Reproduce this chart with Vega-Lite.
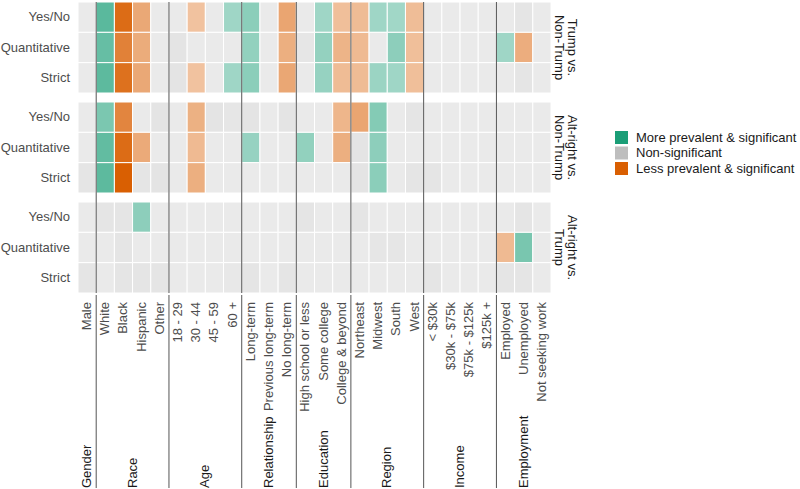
{
  "$schema": "https://vega.github.io/schema/vega-lite/v6.json",
  "padding": {"left": 0, "top": 1, "right": 0, "bottom": 0},
  "config": {"view": {"stroke": null}, "font": "Liberation Sans"},
  "spacing": 0,
  "datasets": {
    "cells": [
      {"comparison":"Trump vs. Non-Trump","measure":"Yes/No","variable":"Male","status":"non","strength":0.32},
      {"comparison":"Trump vs. Non-Trump","measure":"Yes/No","variable":"White","status":"more","strength":0.72},
      {"comparison":"Trump vs. Non-Trump","measure":"Yes/No","variable":"Black","status":"less","strength":0.92},
      {"comparison":"Trump vs. Non-Trump","measure":"Yes/No","variable":"Hispanic","status":"less","strength":0.54},
      {"comparison":"Trump vs. Non-Trump","measure":"Yes/No","variable":"Other","status":"non","strength":0.32},
      {"comparison":"Trump vs. Non-Trump","measure":"Yes/No","variable":"18 - 29","status":"non","strength":0.33},
      {"comparison":"Trump vs. Non-Trump","measure":"Yes/No","variable":"30 - 44","status":"less","strength":0.38},
      {"comparison":"Trump vs. Non-Trump","measure":"Yes/No","variable":"45 - 59","status":"non","strength":0.32},
      {"comparison":"Trump vs. Non-Trump","measure":"Yes/No","variable":"60 +","status":"more","strength":0.42},
      {"comparison":"Trump vs. Non-Trump","measure":"Yes/No","variable":"Long-term","status":"more","strength":0.51},
      {"comparison":"Trump vs. Non-Trump","measure":"Yes/No","variable":"Previous long-term","status":"non","strength":0.32},
      {"comparison":"Trump vs. Non-Trump","measure":"Yes/No","variable":"No long-term","status":"less","strength":0.56},
      {"comparison":"Trump vs. Non-Trump","measure":"Yes/No","variable":"High school or less","status":"non","strength":0.32},
      {"comparison":"Trump vs. Non-Trump","measure":"Yes/No","variable":"Some college","status":"more","strength":0.42},
      {"comparison":"Trump vs. Non-Trump","measure":"Yes/No","variable":"College & beyond","status":"less","strength":0.40},
      {"comparison":"Trump vs. Non-Trump","measure":"Yes/No","variable":"Northeast","status":"less","strength":0.42},
      {"comparison":"Trump vs. Non-Trump","measure":"Yes/No","variable":"Midwest","status":"more","strength":0.42},
      {"comparison":"Trump vs. Non-Trump","measure":"Yes/No","variable":"South","status":"more","strength":0.41},
      {"comparison":"Trump vs. Non-Trump","measure":"Yes/No","variable":"West","status":"less","strength":0.41},
      {"comparison":"Trump vs. Non-Trump","measure":"Yes/No","variable":"< $30k","status":"non","strength":0.32},
      {"comparison":"Trump vs. Non-Trump","measure":"Yes/No","variable":"$30k - $75k","status":"non","strength":0.32},
      {"comparison":"Trump vs. Non-Trump","measure":"Yes/No","variable":"$75k - $125k","status":"non","strength":0.32},
      {"comparison":"Trump vs. Non-Trump","measure":"Yes/No","variable":"$125k +","status":"non","strength":0.32},
      {"comparison":"Trump vs. Non-Trump","measure":"Yes/No","variable":"Employed","status":"non","strength":0.32},
      {"comparison":"Trump vs. Non-Trump","measure":"Yes/No","variable":"Unemployed","status":"non","strength":0.40},
      {"comparison":"Trump vs. Non-Trump","measure":"Yes/No","variable":"Not seeking work","status":"non","strength":0.32},

      {"comparison":"Trump vs. Non-Trump","measure":"Quantitative","variable":"Male","status":"non","strength":0.32},
      {"comparison":"Trump vs. Non-Trump","measure":"Quantitative","variable":"White","status":"more","strength":0.67},
      {"comparison":"Trump vs. Non-Trump","measure":"Quantitative","variable":"Black","status":"less","strength":0.79},
      {"comparison":"Trump vs. Non-Trump","measure":"Quantitative","variable":"Hispanic","status":"less","strength":0.52},
      {"comparison":"Trump vs. Non-Trump","measure":"Quantitative","variable":"Other","status":"non","strength":0.32},
      {"comparison":"Trump vs. Non-Trump","measure":"Quantitative","variable":"18 - 29","status":"non","strength":0.41},
      {"comparison":"Trump vs. Non-Trump","measure":"Quantitative","variable":"30 - 44","status":"non","strength":0.32},
      {"comparison":"Trump vs. Non-Trump","measure":"Quantitative","variable":"45 - 59","status":"non","strength":0.33},
      {"comparison":"Trump vs. Non-Trump","measure":"Quantitative","variable":"60 +","status":"non","strength":0.32},
      {"comparison":"Trump vs. Non-Trump","measure":"Quantitative","variable":"Long-term","status":"more","strength":0.48},
      {"comparison":"Trump vs. Non-Trump","measure":"Quantitative","variable":"Previous long-term","status":"non","strength":0.32},
      {"comparison":"Trump vs. Non-Trump","measure":"Quantitative","variable":"No long-term","status":"less","strength":0.50},
      {"comparison":"Trump vs. Non-Trump","measure":"Quantitative","variable":"High school or less","status":"non","strength":0.38},
      {"comparison":"Trump vs. Non-Trump","measure":"Quantitative","variable":"Some college","status":"more","strength":0.47},
      {"comparison":"Trump vs. Non-Trump","measure":"Quantitative","variable":"College & beyond","status":"less","strength":0.47},
      {"comparison":"Trump vs. Non-Trump","measure":"Quantitative","variable":"Northeast","status":"less","strength":0.43},
      {"comparison":"Trump vs. Non-Trump","measure":"Quantitative","variable":"Midwest","status":"non","strength":0.32},
      {"comparison":"Trump vs. Non-Trump","measure":"Quantitative","variable":"South","status":"more","strength":0.50},
      {"comparison":"Trump vs. Non-Trump","measure":"Quantitative","variable":"West","status":"less","strength":0.40},
      {"comparison":"Trump vs. Non-Trump","measure":"Quantitative","variable":"< $30k","status":"non","strength":0.32},
      {"comparison":"Trump vs. Non-Trump","measure":"Quantitative","variable":"$30k - $75k","status":"non","strength":0.32},
      {"comparison":"Trump vs. Non-Trump","measure":"Quantitative","variable":"$75k - $125k","status":"non","strength":0.32},
      {"comparison":"Trump vs. Non-Trump","measure":"Quantitative","variable":"$125k +","status":"non","strength":0.32},
      {"comparison":"Trump vs. Non-Trump","measure":"Quantitative","variable":"Employed","status":"more","strength":0.42},
      {"comparison":"Trump vs. Non-Trump","measure":"Quantitative","variable":"Unemployed","status":"less","strength":0.51},
      {"comparison":"Trump vs. Non-Trump","measure":"Quantitative","variable":"Not seeking work","status":"non","strength":0.32},

      {"comparison":"Trump vs. Non-Trump","measure":"Strict","variable":"Male","status":"non","strength":0.32},
      {"comparison":"Trump vs. Non-Trump","measure":"Strict","variable":"White","status":"more","strength":0.71},
      {"comparison":"Trump vs. Non-Trump","measure":"Strict","variable":"Black","status":"less","strength":0.89},
      {"comparison":"Trump vs. Non-Trump","measure":"Strict","variable":"Hispanic","status":"less","strength":0.54},
      {"comparison":"Trump vs. Non-Trump","measure":"Strict","variable":"Other","status":"non","strength":0.32},
      {"comparison":"Trump vs. Non-Trump","measure":"Strict","variable":"18 - 29","status":"non","strength":0.41},
      {"comparison":"Trump vs. Non-Trump","measure":"Strict","variable":"30 - 44","status":"less","strength":0.38},
      {"comparison":"Trump vs. Non-Trump","measure":"Strict","variable":"45 - 59","status":"non","strength":0.32},
      {"comparison":"Trump vs. Non-Trump","measure":"Strict","variable":"60 +","status":"more","strength":0.42},
      {"comparison":"Trump vs. Non-Trump","measure":"Strict","variable":"Long-term","status":"more","strength":0.51},
      {"comparison":"Trump vs. Non-Trump","measure":"Strict","variable":"Previous long-term","status":"non","strength":0.32},
      {"comparison":"Trump vs. Non-Trump","measure":"Strict","variable":"No long-term","status":"less","strength":0.55},
      {"comparison":"Trump vs. Non-Trump","measure":"Strict","variable":"High school or less","status":"non","strength":0.32},
      {"comparison":"Trump vs. Non-Trump","measure":"Strict","variable":"Some college","status":"more","strength":0.46},
      {"comparison":"Trump vs. Non-Trump","measure":"Strict","variable":"College & beyond","status":"less","strength":0.42},
      {"comparison":"Trump vs. Non-Trump","measure":"Strict","variable":"Northeast","status":"less","strength":0.42},
      {"comparison":"Trump vs. Non-Trump","measure":"Strict","variable":"Midwest","status":"more","strength":0.44},
      {"comparison":"Trump vs. Non-Trump","measure":"Strict","variable":"South","status":"more","strength":0.42},
      {"comparison":"Trump vs. Non-Trump","measure":"Strict","variable":"West","status":"less","strength":0.40},
      {"comparison":"Trump vs. Non-Trump","measure":"Strict","variable":"< $30k","status":"non","strength":0.32},
      {"comparison":"Trump vs. Non-Trump","measure":"Strict","variable":"$30k - $75k","status":"non","strength":0.32},
      {"comparison":"Trump vs. Non-Trump","measure":"Strict","variable":"$75k - $125k","status":"non","strength":0.32},
      {"comparison":"Trump vs. Non-Trump","measure":"Strict","variable":"$125k +","status":"non","strength":0.32},
      {"comparison":"Trump vs. Non-Trump","measure":"Strict","variable":"Employed","status":"non","strength":0.32},
      {"comparison":"Trump vs. Non-Trump","measure":"Strict","variable":"Unemployed","status":"non","strength":0.40},
      {"comparison":"Trump vs. Non-Trump","measure":"Strict","variable":"Not seeking work","status":"non","strength":0.32},

      {"comparison":"Alt-right vs. Non-Trump","measure":"Yes/No","variable":"Male","status":"non","strength":0.32},
      {"comparison":"Alt-right vs. Non-Trump","measure":"Yes/No","variable":"White","status":"more","strength":0.58},
      {"comparison":"Alt-right vs. Non-Trump","measure":"Yes/No","variable":"Black","status":"less","strength":0.76},
      {"comparison":"Alt-right vs. Non-Trump","measure":"Yes/No","variable":"Hispanic","status":"non","strength":0.32},
      {"comparison":"Alt-right vs. Non-Trump","measure":"Yes/No","variable":"Other","status":"non","strength":0.41},
      {"comparison":"Alt-right vs. Non-Trump","measure":"Yes/No","variable":"18 - 29","status":"non","strength":0.32},
      {"comparison":"Alt-right vs. Non-Trump","measure":"Yes/No","variable":"30 - 44","status":"less","strength":0.49},
      {"comparison":"Alt-right vs. Non-Trump","measure":"Yes/No","variable":"45 - 59","status":"non","strength":0.41},
      {"comparison":"Alt-right vs. Non-Trump","measure":"Yes/No","variable":"60 +","status":"non","strength":0.38},
      {"comparison":"Alt-right vs. Non-Trump","measure":"Yes/No","variable":"Long-term","status":"non","strength":0.41},
      {"comparison":"Alt-right vs. Non-Trump","measure":"Yes/No","variable":"Previous long-term","status":"non","strength":0.32},
      {"comparison":"Alt-right vs. Non-Trump","measure":"Yes/No","variable":"No long-term","status":"non","strength":0.41},
      {"comparison":"Alt-right vs. Non-Trump","measure":"Yes/No","variable":"High school or less","status":"non","strength":0.32},
      {"comparison":"Alt-right vs. Non-Trump","measure":"Yes/No","variable":"Some college","status":"non","strength":0.32},
      {"comparison":"Alt-right vs. Non-Trump","measure":"Yes/No","variable":"College & beyond","status":"less","strength":0.46},
      {"comparison":"Alt-right vs. Non-Trump","measure":"Yes/No","variable":"Northeast","status":"less","strength":0.56},
      {"comparison":"Alt-right vs. Non-Trump","measure":"Yes/No","variable":"Midwest","status":"more","strength":0.54},
      {"comparison":"Alt-right vs. Non-Trump","measure":"Yes/No","variable":"South","status":"non","strength":0.32},
      {"comparison":"Alt-right vs. Non-Trump","measure":"Yes/No","variable":"West","status":"non","strength":0.40},
      {"comparison":"Alt-right vs. Non-Trump","measure":"Yes/No","variable":"< $30k","status":"non","strength":0.32},
      {"comparison":"Alt-right vs. Non-Trump","measure":"Yes/No","variable":"$30k - $75k","status":"non","strength":0.32},
      {"comparison":"Alt-right vs. Non-Trump","measure":"Yes/No","variable":"$75k - $125k","status":"non","strength":0.32},
      {"comparison":"Alt-right vs. Non-Trump","measure":"Yes/No","variable":"$125k +","status":"non","strength":0.32},
      {"comparison":"Alt-right vs. Non-Trump","measure":"Yes/No","variable":"Employed","status":"non","strength":0.32},
      {"comparison":"Alt-right vs. Non-Trump","measure":"Yes/No","variable":"Unemployed","status":"non","strength":0.32},
      {"comparison":"Alt-right vs. Non-Trump","measure":"Yes/No","variable":"Not seeking work","status":"non","strength":0.32},

      {"comparison":"Alt-right vs. Non-Trump","measure":"Quantitative","variable":"Male","status":"non","strength":0.32},
      {"comparison":"Alt-right vs. Non-Trump","measure":"Quantitative","variable":"White","status":"more","strength":0.69},
      {"comparison":"Alt-right vs. Non-Trump","measure":"Quantitative","variable":"Black","status":"less","strength":0.92},
      {"comparison":"Alt-right vs. Non-Trump","measure":"Quantitative","variable":"Hispanic","status":"less","strength":0.53},
      {"comparison":"Alt-right vs. Non-Trump","measure":"Quantitative","variable":"Other","status":"non","strength":0.32},
      {"comparison":"Alt-right vs. Non-Trump","measure":"Quantitative","variable":"18 - 29","status":"non","strength":0.32},
      {"comparison":"Alt-right vs. Non-Trump","measure":"Quantitative","variable":"30 - 44","status":"less","strength":0.43},
      {"comparison":"Alt-right vs. Non-Trump","measure":"Quantitative","variable":"45 - 59","status":"non","strength":0.32},
      {"comparison":"Alt-right vs. Non-Trump","measure":"Quantitative","variable":"60 +","status":"non","strength":0.32},
      {"comparison":"Alt-right vs. Non-Trump","measure":"Quantitative","variable":"Long-term","status":"more","strength":0.46},
      {"comparison":"Alt-right vs. Non-Trump","measure":"Quantitative","variable":"Previous long-term","status":"non","strength":0.32},
      {"comparison":"Alt-right vs. Non-Trump","measure":"Quantitative","variable":"No long-term","status":"non","strength":0.32},
      {"comparison":"Alt-right vs. Non-Trump","measure":"Quantitative","variable":"High school or less","status":"more","strength":0.48},
      {"comparison":"Alt-right vs. Non-Trump","measure":"Quantitative","variable":"Some college","status":"non","strength":0.32},
      {"comparison":"Alt-right vs. Non-Trump","measure":"Quantitative","variable":"College & beyond","status":"less","strength":0.50},
      {"comparison":"Alt-right vs. Non-Trump","measure":"Quantitative","variable":"Northeast","status":"non","strength":0.41},
      {"comparison":"Alt-right vs. Non-Trump","measure":"Quantitative","variable":"Midwest","status":"more","strength":0.50},
      {"comparison":"Alt-right vs. Non-Trump","measure":"Quantitative","variable":"South","status":"non","strength":0.32},
      {"comparison":"Alt-right vs. Non-Trump","measure":"Quantitative","variable":"West","status":"non","strength":0.32},
      {"comparison":"Alt-right vs. Non-Trump","measure":"Quantitative","variable":"< $30k","status":"non","strength":0.32},
      {"comparison":"Alt-right vs. Non-Trump","measure":"Quantitative","variable":"$30k - $75k","status":"non","strength":0.32},
      {"comparison":"Alt-right vs. Non-Trump","measure":"Quantitative","variable":"$75k - $125k","status":"non","strength":0.32},
      {"comparison":"Alt-right vs. Non-Trump","measure":"Quantitative","variable":"$125k +","status":"non","strength":0.32},
      {"comparison":"Alt-right vs. Non-Trump","measure":"Quantitative","variable":"Employed","status":"non","strength":0.32},
      {"comparison":"Alt-right vs. Non-Trump","measure":"Quantitative","variable":"Unemployed","status":"non","strength":0.32},
      {"comparison":"Alt-right vs. Non-Trump","measure":"Quantitative","variable":"Not seeking work","status":"non","strength":0.32},

      {"comparison":"Alt-right vs. Non-Trump","measure":"Strict","variable":"Male","status":"non","strength":0.40},
      {"comparison":"Alt-right vs. Non-Trump","measure":"Strict","variable":"White","status":"more","strength":0.71},
      {"comparison":"Alt-right vs. Non-Trump","measure":"Strict","variable":"Black","status":"less","strength":1.0},
      {"comparison":"Alt-right vs. Non-Trump","measure":"Strict","variable":"Hispanic","status":"non","strength":0.40},
      {"comparison":"Alt-right vs. Non-Trump","measure":"Strict","variable":"Other","status":"non","strength":0.41},
      {"comparison":"Alt-right vs. Non-Trump","measure":"Strict","variable":"18 - 29","status":"non","strength":0.32},
      {"comparison":"Alt-right vs. Non-Trump","measure":"Strict","variable":"30 - 44","status":"less","strength":0.50},
      {"comparison":"Alt-right vs. Non-Trump","measure":"Strict","variable":"45 - 59","status":"non","strength":0.32},
      {"comparison":"Alt-right vs. Non-Trump","measure":"Strict","variable":"60 +","status":"non","strength":0.32},
      {"comparison":"Alt-right vs. Non-Trump","measure":"Strict","variable":"Long-term","status":"non","strength":0.32},
      {"comparison":"Alt-right vs. Non-Trump","measure":"Strict","variable":"Previous long-term","status":"non","strength":0.32},
      {"comparison":"Alt-right vs. Non-Trump","measure":"Strict","variable":"No long-term","status":"non","strength":0.32},
      {"comparison":"Alt-right vs. Non-Trump","measure":"Strict","variable":"High school or less","status":"non","strength":0.32},
      {"comparison":"Alt-right vs. Non-Trump","measure":"Strict","variable":"Some college","status":"non","strength":0.32},
      {"comparison":"Alt-right vs. Non-Trump","measure":"Strict","variable":"College & beyond","status":"non","strength":0.32},
      {"comparison":"Alt-right vs. Non-Trump","measure":"Strict","variable":"Northeast","status":"non","strength":0.41},
      {"comparison":"Alt-right vs. Non-Trump","measure":"Strict","variable":"Midwest","status":"more","strength":0.51},
      {"comparison":"Alt-right vs. Non-Trump","measure":"Strict","variable":"South","status":"non","strength":0.32},
      {"comparison":"Alt-right vs. Non-Trump","measure":"Strict","variable":"West","status":"non","strength":0.40},
      {"comparison":"Alt-right vs. Non-Trump","measure":"Strict","variable":"< $30k","status":"non","strength":0.40},
      {"comparison":"Alt-right vs. Non-Trump","measure":"Strict","variable":"$30k - $75k","status":"non","strength":0.32},
      {"comparison":"Alt-right vs. Non-Trump","measure":"Strict","variable":"$75k - $125k","status":"non","strength":0.32},
      {"comparison":"Alt-right vs. Non-Trump","measure":"Strict","variable":"$125k +","status":"non","strength":0.32},
      {"comparison":"Alt-right vs. Non-Trump","measure":"Strict","variable":"Employed","status":"non","strength":0.32},
      {"comparison":"Alt-right vs. Non-Trump","measure":"Strict","variable":"Unemployed","status":"non","strength":0.32},
      {"comparison":"Alt-right vs. Non-Trump","measure":"Strict","variable":"Not seeking work","status":"non","strength":0.32},

      {"comparison":"Alt-right vs. Trump","measure":"Yes/No","variable":"Male","status":"non","strength":0.32},
      {"comparison":"Alt-right vs. Trump","measure":"Yes/No","variable":"White","status":"non","strength":0.40},
      {"comparison":"Alt-right vs. Trump","measure":"Yes/No","variable":"Black","status":"non","strength":0.40},
      {"comparison":"Alt-right vs. Trump","measure":"Yes/No","variable":"Hispanic","status":"more","strength":0.50},
      {"comparison":"Alt-right vs. Trump","measure":"Yes/No","variable":"Other","status":"non","strength":0.32},
      {"comparison":"Alt-right vs. Trump","measure":"Yes/No","variable":"18 - 29","status":"non","strength":0.32},
      {"comparison":"Alt-right vs. Trump","measure":"Yes/No","variable":"30 - 44","status":"non","strength":0.32},
      {"comparison":"Alt-right vs. Trump","measure":"Yes/No","variable":"45 - 59","status":"non","strength":0.32},
      {"comparison":"Alt-right vs. Trump","measure":"Yes/No","variable":"60 +","status":"non","strength":0.32},
      {"comparison":"Alt-right vs. Trump","measure":"Yes/No","variable":"Long-term","status":"non","strength":0.32},
      {"comparison":"Alt-right vs. Trump","measure":"Yes/No","variable":"Previous long-term","status":"non","strength":0.32},
      {"comparison":"Alt-right vs. Trump","measure":"Yes/No","variable":"No long-term","status":"non","strength":0.32},
      {"comparison":"Alt-right vs. Trump","measure":"Yes/No","variable":"High school or less","status":"non","strength":0.40},
      {"comparison":"Alt-right vs. Trump","measure":"Yes/No","variable":"Some college","status":"non","strength":0.32},
      {"comparison":"Alt-right vs. Trump","measure":"Yes/No","variable":"College & beyond","status":"non","strength":0.32},
      {"comparison":"Alt-right vs. Trump","measure":"Yes/No","variable":"Northeast","status":"non","strength":0.40},
      {"comparison":"Alt-right vs. Trump","measure":"Yes/No","variable":"Midwest","status":"non","strength":0.32},
      {"comparison":"Alt-right vs. Trump","measure":"Yes/No","variable":"South","status":"non","strength":0.32},
      {"comparison":"Alt-right vs. Trump","measure":"Yes/No","variable":"West","status":"non","strength":0.32},
      {"comparison":"Alt-right vs. Trump","measure":"Yes/No","variable":"< $30k","status":"non","strength":0.32},
      {"comparison":"Alt-right vs. Trump","measure":"Yes/No","variable":"$30k - $75k","status":"non","strength":0.32},
      {"comparison":"Alt-right vs. Trump","measure":"Yes/No","variable":"$75k - $125k","status":"non","strength":0.32},
      {"comparison":"Alt-right vs. Trump","measure":"Yes/No","variable":"$125k +","status":"non","strength":0.32},
      {"comparison":"Alt-right vs. Trump","measure":"Yes/No","variable":"Employed","status":"non","strength":0.32},
      {"comparison":"Alt-right vs. Trump","measure":"Yes/No","variable":"Unemployed","status":"non","strength":0.40},
      {"comparison":"Alt-right vs. Trump","measure":"Yes/No","variable":"Not seeking work","status":"non","strength":0.32},

      {"comparison":"Alt-right vs. Trump","measure":"Quantitative","variable":"Male","status":"non","strength":0.32},
      {"comparison":"Alt-right vs. Trump","measure":"Quantitative","variable":"White","status":"non","strength":0.32},
      {"comparison":"Alt-right vs. Trump","measure":"Quantitative","variable":"Black","status":"non","strength":0.40},
      {"comparison":"Alt-right vs. Trump","measure":"Quantitative","variable":"Hispanic","status":"non","strength":0.32},
      {"comparison":"Alt-right vs. Trump","measure":"Quantitative","variable":"Other","status":"non","strength":0.32},
      {"comparison":"Alt-right vs. Trump","measure":"Quantitative","variable":"18 - 29","status":"non","strength":0.32},
      {"comparison":"Alt-right vs. Trump","measure":"Quantitative","variable":"30 - 44","status":"non","strength":0.32},
      {"comparison":"Alt-right vs. Trump","measure":"Quantitative","variable":"45 - 59","status":"non","strength":0.32},
      {"comparison":"Alt-right vs. Trump","measure":"Quantitative","variable":"60 +","status":"non","strength":0.32},
      {"comparison":"Alt-right vs. Trump","measure":"Quantitative","variable":"Long-term","status":"non","strength":0.32},
      {"comparison":"Alt-right vs. Trump","measure":"Quantitative","variable":"Previous long-term","status":"non","strength":0.32},
      {"comparison":"Alt-right vs. Trump","measure":"Quantitative","variable":"No long-term","status":"non","strength":0.32},
      {"comparison":"Alt-right vs. Trump","measure":"Quantitative","variable":"High school or less","status":"non","strength":0.32},
      {"comparison":"Alt-right vs. Trump","measure":"Quantitative","variable":"Some college","status":"non","strength":0.32},
      {"comparison":"Alt-right vs. Trump","measure":"Quantitative","variable":"College & beyond","status":"non","strength":0.32},
      {"comparison":"Alt-right vs. Trump","measure":"Quantitative","variable":"Northeast","status":"non","strength":0.32},
      {"comparison":"Alt-right vs. Trump","measure":"Quantitative","variable":"Midwest","status":"non","strength":0.38},
      {"comparison":"Alt-right vs. Trump","measure":"Quantitative","variable":"South","status":"non","strength":0.38},
      {"comparison":"Alt-right vs. Trump","measure":"Quantitative","variable":"West","status":"non","strength":0.32},
      {"comparison":"Alt-right vs. Trump","measure":"Quantitative","variable":"< $30k","status":"non","strength":0.32},
      {"comparison":"Alt-right vs. Trump","measure":"Quantitative","variable":"$30k - $75k","status":"non","strength":0.32},
      {"comparison":"Alt-right vs. Trump","measure":"Quantitative","variable":"$75k - $125k","status":"non","strength":0.32},
      {"comparison":"Alt-right vs. Trump","measure":"Quantitative","variable":"$125k +","status":"non","strength":0.32},
      {"comparison":"Alt-right vs. Trump","measure":"Quantitative","variable":"Employed","status":"less","strength":0.43},
      {"comparison":"Alt-right vs. Trump","measure":"Quantitative","variable":"Unemployed","status":"more","strength":0.59},
      {"comparison":"Alt-right vs. Trump","measure":"Quantitative","variable":"Not seeking work","status":"non","strength":0.32},

      {"comparison":"Alt-right vs. Trump","measure":"Strict","variable":"Male","status":"non","strength":0.40},
      {"comparison":"Alt-right vs. Trump","measure":"Strict","variable":"White","status":"non","strength":0.32},
      {"comparison":"Alt-right vs. Trump","measure":"Strict","variable":"Black","status":"non","strength":0.40},
      {"comparison":"Alt-right vs. Trump","measure":"Strict","variable":"Hispanic","status":"non","strength":0.40},
      {"comparison":"Alt-right vs. Trump","measure":"Strict","variable":"Other","status":"non","strength":0.40},
      {"comparison":"Alt-right vs. Trump","measure":"Strict","variable":"18 - 29","status":"non","strength":0.32},
      {"comparison":"Alt-right vs. Trump","measure":"Strict","variable":"30 - 44","status":"non","strength":0.32},
      {"comparison":"Alt-right vs. Trump","measure":"Strict","variable":"45 - 59","status":"non","strength":0.32},
      {"comparison":"Alt-right vs. Trump","measure":"Strict","variable":"60 +","status":"non","strength":0.36},
      {"comparison":"Alt-right vs. Trump","measure":"Strict","variable":"Long-term","status":"non","strength":0.40},
      {"comparison":"Alt-right vs. Trump","measure":"Strict","variable":"Previous long-term","status":"non","strength":0.32},
      {"comparison":"Alt-right vs. Trump","measure":"Strict","variable":"No long-term","status":"non","strength":0.40},
      {"comparison":"Alt-right vs. Trump","measure":"Strict","variable":"High school or less","status":"non","strength":0.32},
      {"comparison":"Alt-right vs. Trump","measure":"Strict","variable":"Some college","status":"non","strength":0.32},
      {"comparison":"Alt-right vs. Trump","measure":"Strict","variable":"College & beyond","status":"non","strength":0.32},
      {"comparison":"Alt-right vs. Trump","measure":"Strict","variable":"Northeast","status":"non","strength":0.32},
      {"comparison":"Alt-right vs. Trump","measure":"Strict","variable":"Midwest","status":"non","strength":0.32},
      {"comparison":"Alt-right vs. Trump","measure":"Strict","variable":"South","status":"non","strength":0.32},
      {"comparison":"Alt-right vs. Trump","measure":"Strict","variable":"West","status":"non","strength":0.32},
      {"comparison":"Alt-right vs. Trump","measure":"Strict","variable":"< $30k","status":"non","strength":0.40},
      {"comparison":"Alt-right vs. Trump","measure":"Strict","variable":"$30k - $75k","status":"non","strength":0.32},
      {"comparison":"Alt-right vs. Trump","measure":"Strict","variable":"$75k - $125k","status":"non","strength":0.32},
      {"comparison":"Alt-right vs. Trump","measure":"Strict","variable":"$125k +","status":"non","strength":0.32},
      {"comparison":"Alt-right vs. Trump","measure":"Strict","variable":"Employed","status":"non","strength":0.40},
      {"comparison":"Alt-right vs. Trump","measure":"Strict","variable":"Unemployed","status":"non","strength":0.40},
      {"comparison":"Alt-right vs. Trump","measure":"Strict","variable":"Not seeking work","status":"non","strength":0.32}
    ],
    "bounds": [
      {"variable": "White"}, {"variable": "18 - 29"}, {"variable": "Long-term"},
      {"variable": "High school or less"}, {"variable": "Northeast"}, {"variable": "< $30k"}, {"variable": "Employed"}
    ],
    "categories": [
      {"category": "Gender", "middle": "Male", "n": 1},
      {"category": "Race", "middle": "Hispanic", "n": 4},
      {"category": "Age", "middle": "45 - 59", "n": 4},
      {"category": "Relationship", "middle": "Previous long-term", "n": 3},
      {"category": "Education", "middle": "Some college", "n": 3},
      {"category": "Region", "middle": "South", "n": 4},
      {"category": "Income", "middle": "$75k - $125k", "n": 4},
      {"category": "Employment", "middle": "Unemployed", "n": 3}
    ]
  },
  "vconcat": [
    {
      "width": 473,
      "height": 291,
      "layer": [
        {
          "data": {"name": "cells"},
          "mark": {"type": "rect", "stroke": "white", "strokeWidth": 1},
          "encoding": {
            "x": {"field": "variable", "type": "nominal", "axis": null,
              "scale": {"domain": ["Male","White","Black","Hispanic","Other","18 - 29","30 - 44","45 - 59","60 +","Long-term","Previous long-term","No long-term","High school or less","Some college","College & beyond","Northeast","Midwest","South","West","< $30k","$30k - $75k","$75k - $125k","$125k +","Employed","Unemployed","Not seeking work"], "paddingInner": 0, "paddingOuter": 0}},
            "y": {"field": "comparison", "type": "nominal",
              "scale": {"domain": ["Trump vs. Non-Trump", "Alt-right vs. Non-Trump", "Alt-right vs. Trump"], "paddingInner": 0.09, "paddingOuter": 0},
              "axis": {"orient": "right", "title": null, "domain": false, "ticks": false, "labelAngle": 90, "labelAlign": "center", "labelBaseline": "bottom", "labelPadding": 13, "labelFontSize": 13, "labelColor": "#1a1a1a", "labelLineHeight": 13,
                "labelExpr": "[split(datum.label, ' vs. ')[0] + ' vs.', split(datum.label, ' vs. ')[1]]"}},
            "yOffset": {"field": "measure", "type": "nominal", "scale": {"domain": ["Yes/No", "Quantitative", "Strict"], "paddingInner": 0, "paddingOuter": 0}},
            "color": {"field": "status", "type": "nominal",
              "scale": {"domain": ["more", "non", "less"], "range": ["#1b9e77", "#bebebe", "#d95f02"]},
              "legend": {"title": null, "orient": "none", "legendX": 537, "legendY": 129, "symbolType": "square", "symbolSize": 169, "symbolStrokeWidth": 0, "symbolOpacity": 1, "labelFontSize": 13, "labelColor": "#1a1a1a", "labelOffset": 8, "labelLimit": 0, "rowPadding": 1.5,
                "labelExpr": "datum.label == 'more' ? 'More prevalent & significant' : datum.label == 'non' ? 'Non-significant' : 'Less prevalent & significant'"}},
            "fillOpacity": {"field": "strength", "type": "quantitative", "scale": {"domain": [0, 1], "range": [0, 1]}, "legend": null}
          }
        },
        {
          "data": {"name": "bounds"},
          "mark": {"type": "rule", "color": "#555555", "strokeWidth": 1},
          "encoding": {"x": {"field": "variable", "type": "nominal", "bandPosition": 0}}
        },
        {
          "data": {"name": "cells"},
          "transform": [{"filter": "datum.variable == 'Male'"}],
          "mark": {"type": "text", "align": "right", "baseline": "middle", "dx": -8, "fontSize": 13, "color": "#4d4d4d"},
          "encoding": {
            "x": {"field": "variable", "type": "nominal", "bandPosition": 0},
            "y": {"field": "comparison", "type": "nominal"},
            "yOffset": {"field": "measure", "type": "nominal"},
            "text": {"field": "measure"}
          }
        }
      ]
    },
    {
      "width": 473,
      "height": 193,
      "layer": [
        {
          "data": {"name": "bounds"},
          "mark": {"type": "rule", "color": "#555555", "strokeWidth": 1},
          "encoding": {"x": {"field": "variable", "type": "nominal", "bandPosition": 0, "axis": null,
            "scale": {"domain": ["Male","White","Black","Hispanic","Other","18 - 29","30 - 44","45 - 59","60 +","Long-term","Previous long-term","No long-term","High school or less","Some college","College & beyond","Northeast","Midwest","South","West","< $30k","$30k - $75k","$75k - $125k","$125k +","Employed","Unemployed","Not seeking work"], "paddingInner": 0, "paddingOuter": 0}}}
        },
        {
          "data": {"name": "cells"},
          "transform": [{"filter": "datum.comparison == 'Trump vs. Non-Trump' && datum.measure == 'Yes/No'"}],
          "mark": {"type": "text", "angle": 270, "align": "right", "baseline": "middle", "dx": -7, "fontSize": 13, "color": "#4d4d4d"},
          "encoding": {
            "x": {"field": "variable", "type": "nominal"},
            "y": {"datum": 1, "type": "quantitative", "scale": {"domain": [0, 1]}, "axis": null},
            "text": {"field": "variable"}
          }
        },
        {
          "data": {"name": "categories"},
          "transform": [{"filter": "datum.n % 2 == 1"}],
          "mark": {"type": "text", "angle": 270, "align": "left", "baseline": "middle", "dx": 0, "fontSize": 13, "color": "#1a1a1a"},
          "encoding": {
            "x": {"field": "middle", "type": "nominal", "bandPosition": 0.5},
            "y": {"datum": 0, "type": "quantitative"},
            "text": {"field": "category"}
          }
        },
        {
          "data": {"name": "categories"},
          "transform": [{"filter": "datum.n % 2 == 0"}],
          "mark": {"type": "text", "angle": 270, "align": "left", "baseline": "middle", "dx": 0, "fontSize": 13, "color": "#1a1a1a"},
          "encoding": {
            "x": {"field": "middle", "type": "nominal", "bandPosition": 0},
            "y": {"datum": 0, "type": "quantitative"},
            "text": {"field": "category"}
          }
        }
      ]
    }
  ]
}
